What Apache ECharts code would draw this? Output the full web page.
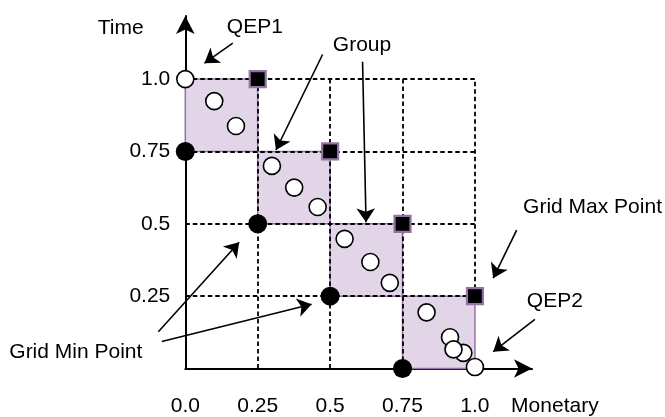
<!DOCTYPE html>
<html>
<head>
<meta charset="utf-8">
<script src="https://cdn.jsdelivr.net/npm/echarts@6/dist/echarts.min.js"></script>
<style>html,body{margin:0;padding:0;background:#fff}#c{width:665px;height:417px}</style>
</head>
<body>
<div id="c"></div>
<script>
// ---- data ----
var xTickLabels = ['0.0', '0.25', '0.5', '0.75', '1.0'];
var yTickLabels = ['', '0.25', '0.5', '0.75', '1.0'];
var gridStep = 0.25;
// dashed grid lines: [position, from, to]
var verticalLines = [[0.25, 0, 1], [0.5, 0, 1], [0.75, 0, 1], [1.0, 0.25, 1]];
var horizontalLines = [[0.25, 0, 1], [0.5, 0, 1], [0.75, 0, 1], [1.0, 0, 1]];
// group cells: [xMin, yMin, xMax, yMax]
var groupCells = [[0, 0.75, 0.25, 1.0], [0.25, 0.5, 0.5, 0.75], [0.5, 0.25, 0.75, 0.5], [0.75, 0, 1.0, 0.25]];
var gridMaxPoints = [[0.25, 1.0], [0.5, 0.75], [0.75, 0.5], [1.0, 0.25]];
var gridMinPoints = [[0, 0.75], [0.25, 0.5], [0.5, 0.25], [0.75, 0]];
var memberPoints = [
  [0.100, 0.924], [0.175, 0.838],
  [0.299, 0.700], [0.376, 0.625], [0.457, 0.558],
  [0.550, 0.448], [0.639, 0.368], [0.706, 0.296],
  [0.833, 0.194], [0.960, 0.054], [0.914, 0.108], [0.926, 0.066]
];
var qepPoints = [[0, 1.0], [1.0, 0.005]];
// annotations
var annotationTexts = ['Time', 'QEP1', 'Group', 'Grid Max Point', 'QEP2', 'Grid Min Point', 'Monetary'];
var annotationAt = [[-0.223, 1.175], [0.240, 1.181], [0.610, 1.117], [1.406, 0.559], [1.276, 0.231], [-0.378, 0.058], [1.276, -0.130]];
var arrowFrom = [[0.164, 1.124], [0.474, 1.085], [0.612, 1.060], [1.144, 0.478], [1.207, 0.170], [-0.093, 0.127], [-0.081, 0.093]];
var arrowTo = [[0.066, 1.055], [0.313, 0.755], [0.624, 0.505], [1.063, 0.312], [1.063, 0.058], [0.186, 0.436], [0.436, 0.222]];

var FONT = "'Liberation Sans', Arial, Helvetica, sans-serif";
var FS = 21;

function tickIndex(v) {
  var i = Math.round(v / gridStep);
  return Math.abs(i * gridStep - v) < 1e-6 ? i : -1;
}

var gridLineData = [];
verticalLines.forEach(function (l) { gridLineData.push({coords: [[l[0], l[1]], [l[0], l[2]]]}); });
horizontalLines.forEach(function (l) { gridLineData.push({coords: [[l[1], l[0]], [l[2], l[0]]]}); });

var arrowData = arrowFrom.map(function (f, i) { return {coords: [f, arrowTo[i]]}; });

var chart = echarts.init(document.getElementById('c'), null, {renderer: 'canvas'});
chart.setOption({
  animation: false,
  backgroundColor: '#fff',
  grid: {left: 185.3, right: 133, top: 16, bottom: 48.5},
  xAxis: {
    type: 'value', min: 0, max: 1.197, interval: gridStep,
    splitLine: {show: false}, axisTick: {show: false},
    axisLine: {show: true, lineStyle: {color: '#000', width: 2}, symbol: ['none', 'arrow'], symbolSize: [14, 18]},
    axisLabel: {
      show: true, margin: 27, showMaxLabel: false, color: '#000', fontSize: FS, fontFamily: FONT,
      formatter: function (v) { var i = tickIndex(v); return i >= 0 && i < xTickLabels.length ? xTickLabels[i] : ''; }
    }
  },
  yAxis: {
    type: 'value', min: 0, max: 1.218, interval: gridStep,
    splitLine: {show: false}, axisTick: {show: false},
    axisLine: {show: true, lineStyle: {color: '#000', width: 2}, symbol: ['none', 'arrow'], symbolSize: [14, 18]},
    axisLabel: {
      show: true, margin: 15, showMaxLabel: false, color: '#000', fontSize: FS, fontFamily: FONT,
      formatter: function (v) { var i = tickIndex(v); return i >= 0 && i < yTickLabels.length ? yTickLabels[i] : ''; }
    }
  },
  series: [
    {
      type: 'custom', z: 1, clip: false, silent: true,
      data: groupCells,
      renderItem: function (params, api) {
        var p0 = api.coord([api.value(0), api.value(3)]);
        var p1 = api.coord([api.value(2), api.value(1)]);
        return {type: 'rect', shape: {x: p0[0], y: p0[1], width: p1[0] - p0[0], height: p1[1] - p0[1]},
          style: {fill: '#e1d5e7', stroke: '#9673a6', lineWidth: 1.5}};
      }
    },
    {
      type: 'lines', coordinateSystem: 'cartesian2d', z: 2, clip: false, silent: true,
      data: gridLineData,
      lineStyle: {color: '#000', width: 1.8, type: [4.5, 3], opacity: 1}
    },
    {
      type: 'scatter', z: 3, clip: false, silent: true,
      data: gridMaxPoints, symbol: 'rect', symbolSize: 16,
      itemStyle: {color: '#000', borderColor: '#9673a6', borderWidth: 2.2, opacity: 1}
    },
    {
      type: 'scatter', z: 3, clip: false, silent: true,
      data: gridMinPoints, symbol: 'circle', symbolSize: 19,
      itemStyle: {color: '#000', opacity: 1}
    },
    {
      type: 'scatter', z: 4, clip: false, silent: true,
      data: memberPoints, symbol: 'circle', symbolSize: 17,
      itemStyle: {color: '#fff', borderColor: '#000', borderWidth: 1.6, opacity: 1}
    },
    {
      type: 'scatter', z: 5, clip: false, silent: true,
      data: qepPoints, symbol: 'circle', symbolSize: 17,
      itemStyle: {color: '#fff', borderColor: '#000', borderWidth: 1.6, opacity: 1}
    },
    {
      type: 'lines', coordinateSystem: 'cartesian2d', z: 6, clip: false, silent: true,
      data: arrowData, symbol: ['none', 'arrow'], symbolSize: 14,
      lineStyle: {color: '#000', width: 1.6, opacity: 1}
    },
    {
      type: 'custom', z: 7, clip: false, silent: true,
      data: annotationAt.map(function (p, i) { return {value: p, name: annotationTexts[i]}; }),
      renderItem: function (params, api) {
        var p = api.coord([api.value(0), api.value(1)]);
        return {type: 'text', x: p[0], y: p[1],
          style: {text: annotationTexts[params.dataIndex], fill: '#000', font: FS + 'px ' + FONT, align: 'center', verticalAlign: 'middle'}};
      }
    }
  ]
});
</script>
</body>
</html>
